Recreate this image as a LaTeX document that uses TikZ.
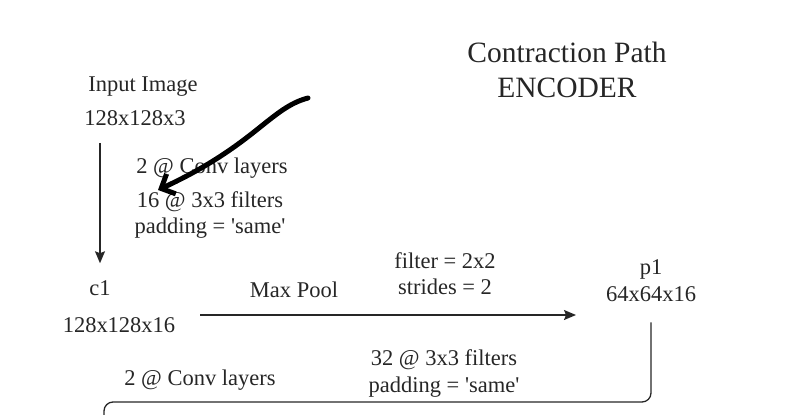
\documentclass[tikz,border=0pt]{standalone}
\usepackage{fontspec}
\setmainfont{Liberation Serif}
\usetikzlibrary{positioning}
\usetikzlibrary{arrows.meta}

\tikzset{
  lbl/.style={inner sep=2pt, align=center, text=black!85,
    font=\fontsize{22.5}{26.5}\selectfont},
  ttl/.style={lbl, font=\fontsize{29.5}{35}\selectfont},
  flow/.style={-{Stealth[length=12pt,width=10pt,inset=2pt]}, line width=1.3pt, draw=black!85},
  scribble/.style={line width=5pt, line cap=round, line join=round,
    -{Straight Barb[length=11pt,width=22pt]}}
}

\begin{document}
\begin{tikzpicture}[x=1pt,y=-1pt]
\useasboundingbox (0,0) rectangle (793,415);

\node[ttl] (title) at (567,70) {Contraction Path\\ENCODER};

\node[lbl] (inname) at (143,87) {Input Image};
\node[lbl] (indim) at (135,118) {128x128x3};
\node[lbl] (convA) at (212,168) {2 @ Conv layers};
\node[lbl] (convB) at (210,215) {16 @ 3x3 filters\\padding = \textquotesingle same\textquotesingle};

\node[lbl] (c1) at (100,288) {c1};
\node[lbl] (c1dim) at (119,325) {128x128x16};
\node[lbl] (pool) at (294,290) {Max Pool};
\node[lbl] (poolopt) at (445,273.5) {filter = 2x2\\strides = 2};
\node[lbl] (p1) at (651,280.5) {p1\\64x64x16};

\node[lbl] (convC) at (200,380) {2 @ Conv layers};
\node[lbl] (convD) at (444,373.5) {32 @ 3x3 filters\\padding = \textquotesingle same\textquotesingle};

% connectors
\coordinate (poolin) at (200,315);
\coordinate (poolout) at (576,315);
\coordinate (turn) at (104,402);
\coordinate (scrA) at (308,98);
\coordinate (scrB) at (158,190);

\draw[flow, shorten <=15pt, shorten >=15pt] (indim.south -| c1.north) -- (c1.north);
\draw[flow] (poolin) -- (poolout);
\draw[line width=1.3pt, draw=black!85, rounded corners=9pt]
  ([yshift=-19pt]p1.south) |- (turn) -- ++(0,20);

% hand drawn mark
\draw[scribble] (scrA) .. controls (270,108) and (255,145) .. (scrB);
\end{tikzpicture}
\end{document}
